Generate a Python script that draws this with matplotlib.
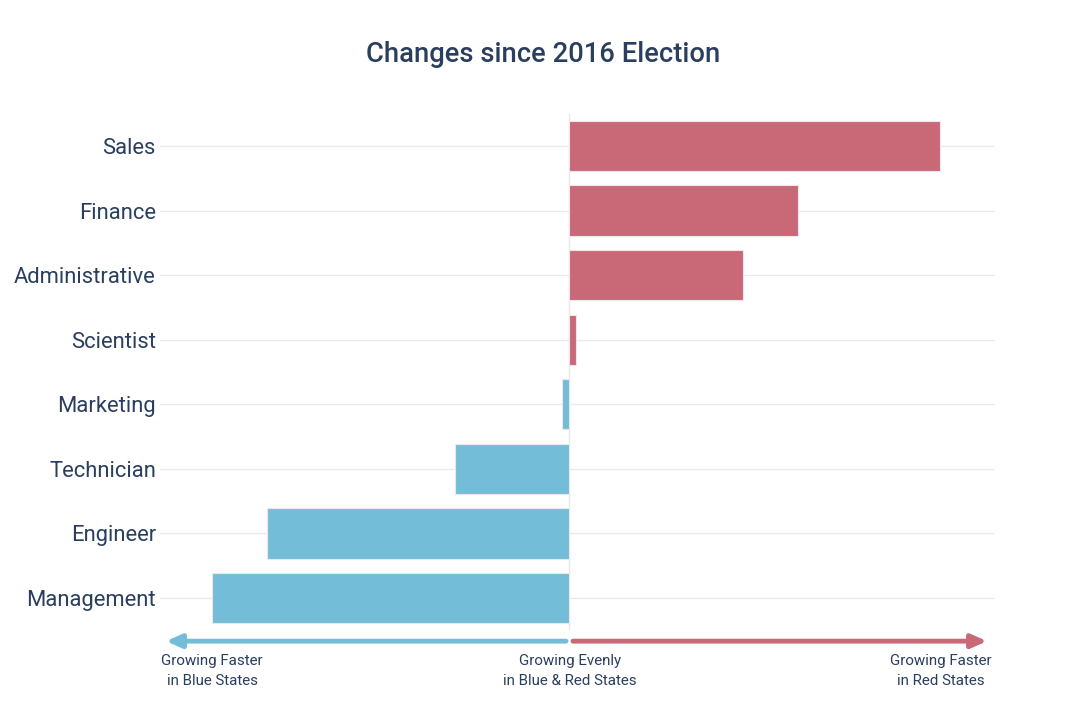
import matplotlib.pyplot as plt
from matplotlib.transforms import blended_transform_factory

plt.rcParams['font.family'] = ['Roboto', 'DejaVu Sans']

# data (relative change)
jobs = ["Sales", "Finance", "Administrative", "Scientist",
        "Marketing", "Technician", "Engineer", "Management"]
change = [3.71, 2.29, 1.74, 0.07, -0.07, -1.14, -3.02, -3.57]

red = "#c96877"
blue = "#73bdd8"
navy = "#2a3f5f"

fig = plt.figure(figsize=(10.91, 7.28), dpi=100)
ax = fig.add_axes([0.1467, 0.1342, 0.7653, 0.7096])

ypos = list(range(len(jobs)))[::-1]
colors = [red if v > 0 else blue for v in change]
ax.barh(ypos, change, height=0.78, color=colors, edgecolor="#f0e6ea",
        linewidth=0.8, zorder=3)

ax.set_xlim(-4.09, 4.26)
ax.set_ylim(-0.5, len(jobs) - 0.5)
ax.set_yticks(ypos)
ax.set_yticklabels(jobs, fontsize=15.8, color=navy)
ax.tick_params(axis="y", length=0, pad=3)
ax.set_xticks([])
for s in ax.spines.values():
    s.set_visible(False)
ax.grid(axis="y", color="#ebebeb", linewidth=1, zorder=0)
ax.axvline(0, color="#e8e8e8", linewidth=1, zorder=1)

# direction arrows below the bars
tr = blended_transform_factory(ax.transData, ax.transAxes)
ax.annotate("", xy=(-4.03, -0.021), xytext=(-0.03, -0.021), xycoords=tr,
            textcoords=tr, annotation_clip=False,
            arrowprops=dict(arrowstyle="-|>,head_length=0.9,head_width=0.4",
                            color=blue, lw=3.5, shrinkA=0, shrinkB=0))
ax.annotate("", xy=(4.18, -0.021), xytext=(0.04, -0.021), xycoords=tr,
            textcoords=tr, annotation_clip=False,
            arrowprops=dict(arrowstyle="-|>,head_length=0.9,head_width=0.4",
                            color=red, lw=3.5, shrinkA=0, shrinkB=0))

note_kw = dict(transform=tr, ha="center", va="top", fontsize=10.9,
               color=navy, linespacing=1.55)
ax.text(-3.57, -0.045, "Growing Faster\nin Blue States", **note_kw)
ax.text(0.01, -0.045, "Growing Evenly\nin Blue & Red States", **note_kw)
ax.text(3.72, -0.045, "Growing Faster\nin Red States", **note_kw)

fig.text(0.4977, 0.925, "Changes since 2016 Election", ha="center",
         va="center", fontsize=19.7, fontweight="medium", color=navy)

fig.savefig("out.png", dpi=100)
